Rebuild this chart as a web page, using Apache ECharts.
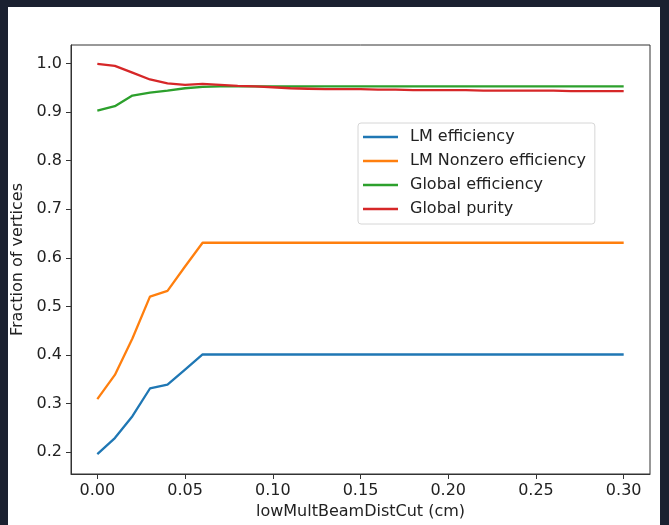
<!DOCTYPE html>
<html>
<head>
<meta charset="utf-8">
<script src="https://cdn.jsdelivr.net/npm/echarts@6/dist/echarts.min.js"></script>
<style>
  html, body { margin: 0; padding: 0; background: #1b2130; }
  #panel { position: absolute; left: 8px; top: 7px; width: 652px; height: 518px; background: #fff; }
  #main { position: absolute; left: 0; top: 0; width: 669px; height: 525px; }
</style>
</head>
<body>
<div id="panel"></div>
<div id="main"></div>
<script>
// cut values (cm)
const cuts = [0.00, 0.01, 0.02, 0.03, 0.04, 0.05, 0.06, 0.07, 0.08, 0.09, 0.10,
  0.11, 0.12, 0.13, 0.14, 0.15, 0.16, 0.17, 0.18, 0.19, 0.20,
  0.21, 0.22, 0.23, 0.24, 0.25, 0.26, 0.27, 0.28, 0.29, 0.30];

const lmEff = [0.196, 0.229, 0.274, 0.331, 0.339, 0.370, 0.401, 0.401, 0.401, 0.401, 0.401,
  0.401, 0.401, 0.401, 0.401, 0.401, 0.401, 0.401, 0.401, 0.401, 0.401,
  0.401, 0.401, 0.401, 0.401, 0.401, 0.401, 0.401, 0.401, 0.401, 0.401];

const lmNonzeroEff = [0.309, 0.359, 0.434, 0.520, 0.532, 0.582, 0.631, 0.631, 0.631, 0.631, 0.631,
  0.631, 0.631, 0.631, 0.631, 0.631, 0.631, 0.631, 0.631, 0.631, 0.631,
  0.631, 0.631, 0.631, 0.631, 0.631, 0.631, 0.631, 0.631, 0.631, 0.631];

const globalEff = [0.903, 0.912, 0.934, 0.940, 0.944, 0.949, 0.952, 0.953, 0.953, 0.953, 0.953,
  0.953, 0.953, 0.953, 0.953, 0.953, 0.953, 0.953, 0.953, 0.953, 0.953,
  0.953, 0.953, 0.953, 0.953, 0.953, 0.953, 0.953, 0.953, 0.953, 0.953];

const globalPurity = [0.999, 0.995, 0.981, 0.967, 0.959, 0.956, 0.958, 0.956, 0.954, 0.953, 0.951,
  0.949, 0.948, 0.947, 0.947, 0.947, 0.946, 0.946, 0.945, 0.945, 0.945,
  0.945, 0.944, 0.944, 0.944, 0.944, 0.944, 0.943, 0.943, 0.943, 0.943];

const xTicks = [0, 0.05, 0.10, 0.15, 0.20, 0.25, 0.30];
const yTicks = [0.2, 0.3, 0.4, 0.5, 0.6, 0.7, 0.8, 0.9, 1.0];

const names = ['LM efficiency', 'LM Nonzero efficiency', 'Global efficiency', 'Global purity'];
const colors = ['#1f77b4', '#ff7f0e', '#2ca02c', '#d62728'];
const values = [lmEff, lmNonzeroEff, globalEff, globalPurity];

const font = 'DejaVu Sans';
const txt = '#222';
const chart = echarts.init(document.getElementById('main'));

chart.setOption({
  animation: false,
  backgroundColor: 'transparent',
  color: colors,
  grid: {
    left: 71, right: 19, top: 45, bottom: 50,
    show: true, borderColor: '#333', borderWidth: 1, backgroundColor: 'transparent'
  },
  legend: {
    orient: 'vertical',
    left: 358, top: 123,
    icon: 'rect',
    itemWidth: 35, itemHeight: 2.5,
    itemGap: 6,
    padding: [5, 9, 6, 5],
    borderColor: '#d6d6d6', borderWidth: 1, borderRadius: 3,
    backgroundColor: '#fff',
    textStyle: { fontFamily: font, fontSize: 16, color: txt, lineHeight: 18, padding: [0, 0, 0, 7] },
    data: names
  },
  xAxis: {
    type: 'value',
    min: -0.015, max: 0.315,
    name: 'lowMultBeamDistCut (cm)',
    nameLocation: 'middle', nameGap: 30,
    nameTextStyle: { fontFamily: font, fontSize: 16, color: txt },
    axisLine: { show: true, onZero: false, lineStyle: { color: '#333', width: 1 } },
    axisTick: { show: true, length: 5, lineStyle: { color: '#333' }, customValues: xTicks },
    axisLabel: {
      fontFamily: font, fontSize: 16, color: txt, margin: 9,
      customValues: xTicks,
      formatter: v => v.toFixed(2)
    },
    splitLine: { show: false }
  },
  yAxis: {
    type: 'value',
    min: 0.155, max: 1.038,
    name: 'Fraction of vertices',
    nameLocation: 'middle', nameGap: 45,
    nameTextStyle: { fontFamily: font, fontSize: 16, color: txt },
    axisLine: { show: true, onZero: false, lineStyle: { color: '#333', width: 1 } },
    axisTick: { show: true, length: 5, lineStyle: { color: '#333' }, customValues: yTicks },
    axisLabel: {
      fontFamily: font, fontSize: 16, color: txt, margin: 9,
      customValues: yTicks,
      formatter: v => v.toFixed(1)
    },
    splitLine: { show: false }
  },
  series: names.map((n, i) => ({
    name: n,
    type: 'line',
    symbol: 'none',
    lineStyle: { width: 2.3, color: colors[i] },
    itemStyle: { color: colors[i] },
    data: cuts.map((x, j) => [x, values[i][j]])
  }))
});
</script>
</body>
</html>
